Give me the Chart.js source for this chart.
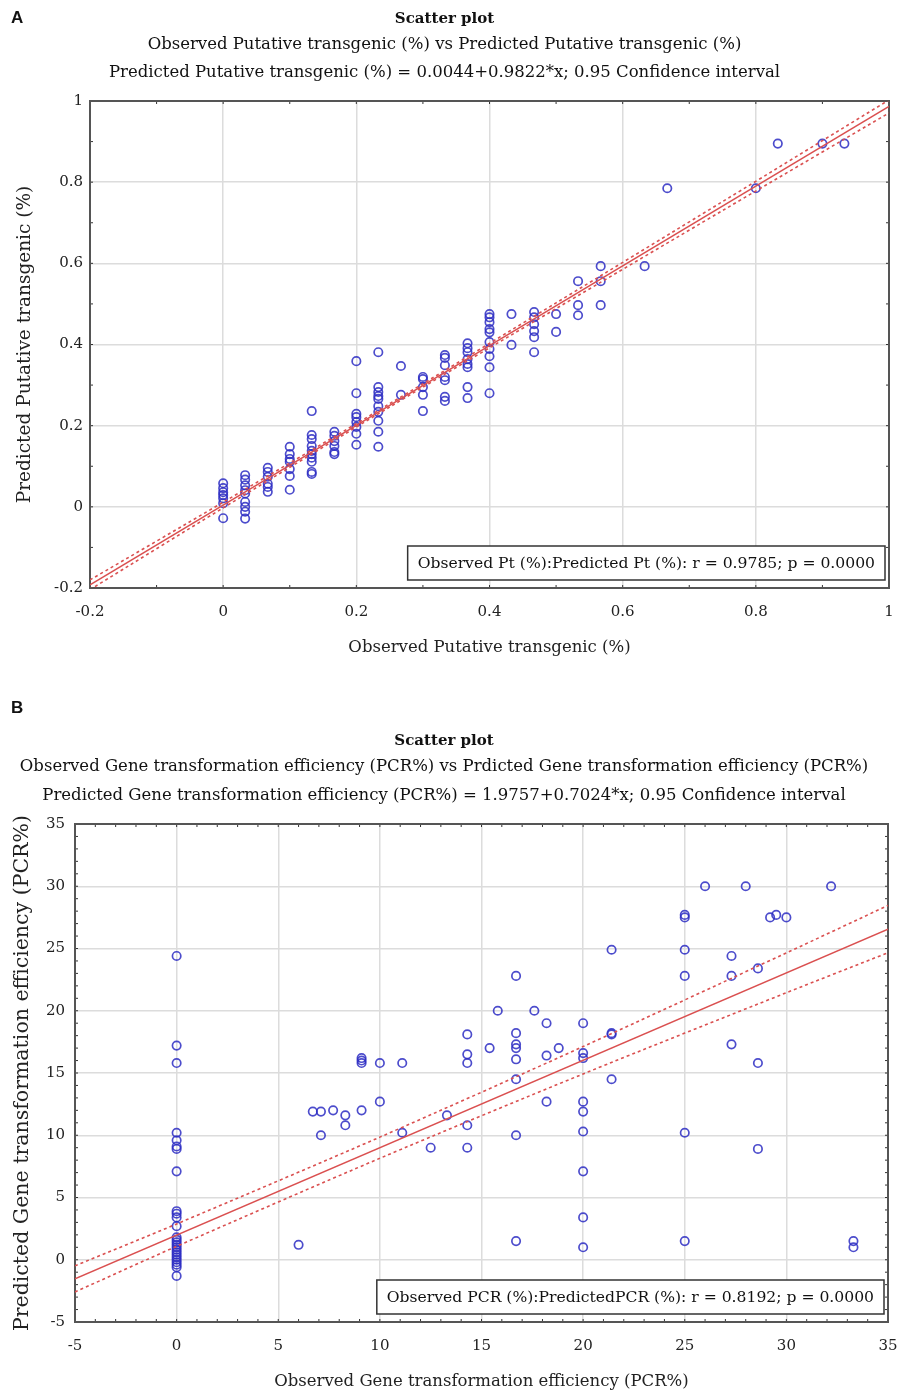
<!DOCTYPE html>
<html>
<head>
<meta charset="utf-8">
<script src="https://cdn.jsdelivr.net/npm/chart.js@4.4.1/dist/chart.umd.min.js"></script>
<style>
  body { margin: 0; background: #fff; width: 900px; height: 1394px; position: relative; overflow: hidden; }
  .panel { position: absolute; left: 0; width: 900px; }
  .tag { position: absolute; left: 11px; font: bold 17px "Liberation Sans", Arial, sans-serif; color: #111; }
</style>
</head>
<body>
<div class="panel" style="top:0;height:680px"><canvas id="chartA" width="900" height="680"></canvas></div>
<div class="panel" style="top:690px;height:704px"><canvas id="chartB" width="900" height="704"></canvas></div>
<div class="tag" style="top:8px">A</div>
<div class="tag" style="top:698px">B</div>
<script>
// ---- panel A: observed vs predicted putative transgenic (%) ----
const aObsLevels = [0, 0.033, 0.067, 0.1, 0.133, 0.167, 0.2, 0.233, 0.267, 0.3, 0.333, 0.367,
  0.4, 0.433, 0.467, 0.5, 0.533, 0.567, 0.633, 0.667, 0.8, 0.833, 0.9, 0.933]
const aPredAtLevel = [
  [0.058, 0.046, 0.036, 0.029, 0.021, 0.009, -0.028],
  [0.078, 0.067, 0.053, 0.041, 0.033, 0.012, 0.0, -0.012, -0.029],
  [0.096, 0.086, 0.074, 0.057, 0.049, 0.037],
  [0.148, 0.130, 0.118, 0.111, 0.093, 0.076, 0.042],
  [0.236, 0.177, 0.167, 0.150, 0.138, 0.130, 0.121, 0.111, 0.086, 0.081],
  [0.185, 0.175, 0.162, 0.150, 0.135, 0.130],
  [0.359, 0.280, 0.229, 0.221, 0.209, 0.197, 0.180, 0.153],
  [0.381, 0.295, 0.283, 0.273, 0.266, 0.248, 0.234, 0.212, 0.185, 0.148],
  [0.347, 0.276],
  [0.320, 0.315, 0.295, 0.276, 0.236],
  [0.374, 0.367, 0.349, 0.320, 0.312, 0.271, 0.261],
  [0.403, 0.391, 0.381, 0.364, 0.352, 0.344, 0.295, 0.268],
  [0.475, 0.467, 0.455, 0.438, 0.430, 0.406, 0.389, 0.371, 0.344, 0.280],
  [0.475, 0.399],
  [0.480, 0.467, 0.450, 0.433, 0.418, 0.381],
  [0.475, 0.431],
  [0.556, 0.497, 0.472],
  [0.593, 0.556, 0.497],
  [0.593],
  [0.785],
  [0.785],
  [0.895],
  [0.895],
  [0.895],
]
const aFit = { intercept: 0.0044, slope: 0.9822 }
const aBandX = [-0.2, 0, 0.25, 0.5, 0.75, 1]
const aBandHalf = [0.012, 0.007, 0.004, 0.007, 0.011, 0.016]
const aTicks = [-0.2, 1, 0.2]

// ---- panel B: observed vs predicted gene transformation efficiency (PCR%) ----
const bObsLevels = [0, 6.0, 6.7, 7.1, 7.7, 8.3, 9.1, 10.0, 11.1, 12.5, 13.3, 14.3, 15.4, 15.8,
  16.7, 17.6, 18.2, 18.8, 20.0, 21.4, 25.0, 26.0, 27.3, 28.0, 28.6, 29.2, 29.5, 30.0, 32.2, 33.3]
const bPredAtLevel = [
  [24.4, 17.2, 15.8, 10.2, 9.6, 9.1, 8.9, 7.1, 3.9, 3.7, 3.4, 2.7, 1.8, 1.6, 1.4, 1.2, 1.0,
    0.8, 0.6, 0.4, 0.2, 0.0, -0.2, -0.4, -0.6, -1.3],
  [1.2],
  [11.9],
  [11.9, 10.0],
  [12.0],
  [11.6, 10.8],
  [16.2, 16.0, 15.8, 12.0],
  [15.8, 12.7],
  [15.8, 10.2],
  [9.0],
  [11.6],
  [18.1, 16.5, 15.8, 10.8, 9.0],
  [17.0],
  [20.0],
  [22.8, 18.2, 17.3, 17.0, 16.1, 14.5, 10.0, 1.5],
  [20.0],
  [19.0, 16.4, 12.7],
  [17.0],
  [19.0, 16.6, 16.2, 12.7, 11.9, 10.3, 7.1, 3.4, 1.0],
  [24.9, 18.2, 18.1, 14.5],
  [27.7, 27.5, 24.9, 22.8, 10.2, 1.5],
  [30.0],
  [24.4, 22.8, 17.3],
  [30.0],
  [23.4, 15.8, 8.9],
  [27.5],
  [27.7],
  [27.5],
  [30.0],
  [1.5, 1.0],
]
const bFit = { intercept: 1.9757, slope: 0.7024 }
const bBandX = [-5, 0, 10, 20, 30, 35]
const bBandHalf = [1.05, 0.9, 0.85, 1.1, 1.6, 1.9]
const bTicks = [-5, 35, 5]

const SERIF = '"DejaVu Serif", "Liberation Serif", serif'
const RED = 'rgb(218, 80, 80)'
const BLUE = 'rgba(45, 45, 195, 0.85)'

const toPoints = (levels, values) => levels.flatMap((x, i) => values[i].map((y) => ({ x, y })))
const fitAt = (fit, x) => fit.intercept + fit.slope * x
const band = (fit, xs, half, sign) => xs.map((x, i) => ({ x, y: fitAt(fit, x) + sign * half[i] }))

// border box + small inward ticks on all four sides
const frame = {
  id: 'frame',
  beforeDatasetsDraw(chart, args, opts) {
    const { ctx, chartArea: { left, right, top, bottom }, scales: { x, y } } = chart
    ctx.save()
    ctx.strokeStyle = '#333'
    ctx.lineWidth = 1
    const seg = (x1, y1, x2, y2) => { ctx.beginPath(); ctx.moveTo(x1, y1); ctx.lineTo(x2, y2); ctx.stroke() }
    const nx = Math.round((x.max - x.min) / opts.minorX)
    for (let i = 0; i <= nx; i++) {
      const px = x.getPixelForValue(x.min + i * opts.minorX)
      seg(px, top, px, top + 3)
      seg(px, bottom, px, bottom - 3)
    }
    const ny = Math.round((y.max - y.min) / opts.minorY)
    for (let i = 0; i <= ny; i++) {
      const py = y.getPixelForValue(y.min + i * opts.minorY)
      seg(left, py, left + 3, py)
      seg(right, py, right - 3, py)
    }
    ctx.strokeStyle = '#555'
    ctx.lineWidth = 2
    ctx.strokeRect(left, top, right - left, bottom - top)
    ctx.restore()
  },
}

const statBox = {
  id: 'statBox',
  afterDatasetsDraw(chart, args, opts) {
    const { ctx, chartArea: { right, bottom } } = chart
    ctx.save()
    ctx.font = `15.6px ${SERIF}`
    const w = ctx.measureText(opts.text).width + 20
    const h = 34
    const x0 = right - 4 - w
    const y0 = bottom - 8 - h
    ctx.fillStyle = '#fff'
    ctx.fillRect(x0, y0, w, h)
    ctx.strokeStyle = '#333'
    ctx.lineWidth = 1.5
    ctx.strokeRect(x0, y0, w, h)
    ctx.fillStyle = '#111'
    ctx.textAlign = 'center'
    ctx.textBaseline = 'middle'
    ctx.fillText(opts.text, x0 + w / 2, y0 + h / 2 + 1)
    ctx.restore()
  },
}

const makeChart = (id, cfg) => new Chart(document.getElementById(id), {
  type: 'scatter',
  data: {
    datasets: [
      { data: cfg.line, showLine: true, pointRadius: 0, borderColor: RED, borderWidth: 1.5, order: 0 },
      { data: cfg.upper, showLine: true, pointRadius: 0, borderColor: RED, borderWidth: 1.6, borderDash: [3, 3], tension: 0.3, order: 0 },
      { data: cfg.lower, showLine: true, pointRadius: 0, borderColor: RED, borderWidth: 1.6, borderDash: [3, 3], tension: 0.3, order: 0 },
      { data: cfg.points, pointRadius: 4.2, pointBorderWidth: 1.7, borderColor: BLUE, backgroundColor: 'rgba(0,0,0,0)', order: 1 },
    ],
  },
  options: {
    responsive: false,
    animation: false,
    layout: { padding: { top: 0, left: 0, right: cfg.padRight, bottom: 0 } },
    plugins: {
      legend: { display: false },
      tooltip: { enabled: false },
      title: {
        display: true,
        text: 'Scatter plot',
        color: '#111',
        font: { family: SERIF, size: 15, weight: 'bold' },
        padding: { top: cfg.titleTop, bottom: 2 },
      },
      subtitle: {
        display: true,
        text: cfg.subtitle,
        color: '#111',
        font: { family: SERIF, size: 16.5, lineHeight: cfg.subLine },
        padding: { top: cfg.subTop, bottom: cfg.subBottom },
      },
      frame: { minorX: cfg.minor, minorY: cfg.minor },
      statBox: { text: cfg.stat },
    },
    scales: {
      x: {
        min: cfg.ticks[0],
        max: cfg.ticks[1],
        afterFit: (s) => { s.height = cfg.xAxisH; s.paddingRight = 0 },
        ticks: { stepSize: cfg.ticks[2], color: '#222', padding: 15, font: { family: SERIF, size: 15 }, callback: (v) => String(Math.round(v * 10) / 10) },
        grid: { color: '#dcdcdc', lineWidth: 1.5, drawTicks: false },
        border: { display: false },
        title: { display: true, text: cfg.xTitle, color: '#222', font: { family: SERIF, size: 16.5 }, padding: { top: 4, bottom: cfg.xTitleBottom } },
      },
      y: {
        min: cfg.ticks[0],
        max: cfg.ticks[1],
        afterFit: (s) => { s.width = cfg.yAxisW },
        ticks: { stepSize: cfg.ticks[2], color: '#222', padding: cfg.yTickPad, font: { family: SERIF, size: 15 }, callback: (v) => String(Math.round(v * 10) / 10) },
        grid: { color: '#dcdcdc', lineWidth: 1.5, drawTicks: false },
        border: { display: false },
        title: { display: true, text: cfg.yTitle, color: '#222', font: { family: SERIF, size: cfg.yTitleSize }, padding: { top: cfg.yTitleTop, bottom: 4 } },
      },
    },
  },
  plugins: [frame, statBox],
})

makeChart('chartA', {
  points: toPoints(aObsLevels, aPredAtLevel),
  line: [aTicks[0], aTicks[1]].map((x) => ({ x, y: fitAt(aFit, x) })),
  upper: band(aFit, aBandX, aBandHalf, 1),
  lower: band(aFit, aBandX, aBandHalf, -1),
  ticks: aTicks,
  minor: 0.1,
  subtitle: ['Observed Putative transgenic (%) vs Predicted Putative transgenic (%)',
    'Predicted Putative transgenic (%) = 0.0044+0.9822*x; 0.95 Confidence interval'],
  stat: 'Observed Pt (%):Predicted Pt (%): r = 0.9785; p = 0.0000',
  xTitle: 'Observed Putative transgenic (%)',
  yTitle: 'Predicted Putative transgenic (%)',
  titleTop: 10,
  subTop: 1,
  subLine: '28px',
  subBottom: 14,
  padRight: 11,
  xAxisH: 92,
  xTitleBottom: 22.5,
  yAxisW: 90,
  yTickPad: 7,
  yTitleSize: 18.5,
  yTitleTop: 14,
})

makeChart('chartB', {
  points: toPoints(bObsLevels, bPredAtLevel),
  line: [bTicks[0], bTicks[1]].map((x) => ({ x, y: fitAt(bFit, x) })),
  upper: band(bFit, bBandX, bBandHalf, 1),
  lower: band(bFit, bBandX, bBandHalf, -1),
  ticks: bTicks,
  minor: 1,
  subtitle: ['Observed Gene transformation efficiency (PCR%) vs Prdicted Gene transformation efficiency (PCR%)',
    'Predicted Gene transformation efficiency (PCR%) = 1.9757+0.7024*x; 0.95 Confidence interval'],
  stat: 'Observed PCR (%):PredictedPCR (%): r = 0.8192; p = 0.0000',
  xTitle: 'Observed Gene transformation efficiency (PCR%)',
  yTitle: 'Predicted Gene transformation efficiency (PCR%)',
  titleTop: 42,
  subTop: 0.5,
  subLine: '29px',
  subBottom: 13.5,
  padRight: 12,
  xAxisH: 72,
  xTitleBottom: 2.5,
  yAxisW: 75,
  yTickPad: 10,
  yTitleSize: 20.5,
  yTitleTop: 10,
})
</script>
</body>
</html>
